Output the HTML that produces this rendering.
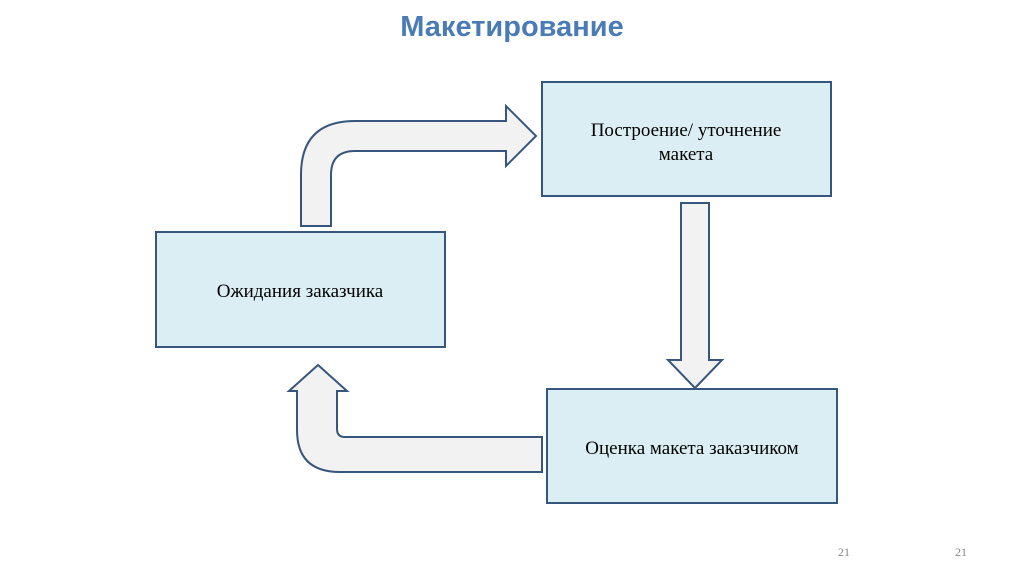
<!DOCTYPE html><html><head><style>body{margin:0;width:1024px;height:574px;background:#fff;overflow:hidden}</style></head><body>
<svg width="1024" height="574" xmlns="http://www.w3.org/2000/svg">
<text x="512" y="36" text-anchor="middle" font-family="Liberation Sans, sans-serif" font-weight="bold" font-size="29" fill="#4a7bb7">Макетирование</text>
<g fill="#dbeef4" stroke="#36567e" stroke-width="2">
<rect x="542" y="82" width="289" height="114"/>
<rect x="156" y="232" width="289" height="115"/>
<rect x="547" y="389" width="290" height="114"/>
</g>
<g fill="#f2f2f2" stroke="#36567e" stroke-width="2" stroke-linejoin="miter">
<path d="M301 226 L301 175 Q301 121 355 121 L506 121 L506 106 L536 136 L506 166 L506 151 L355 151 Q331 151 331 175 L331 226 Z"/>
<path d="M681 203 L709 203 L709 360 L722 360 L695 388 L668 360 L681 360 Z"/>
<path d="M542 437 L345 437 Q337 437 337 429 L337 391 L347 391 L318 365 L289 391 L297 391 L297 430 Q297 472 340 472 L542 472 Z"/>
</g>
<g font-family="Liberation Serif, serif" font-size="19" fill="#000" text-anchor="middle">
<text x="686" y="136">Построение/ уточнение</text>
<text x="686" y="160">макета</text>
<text x="300" y="297">Ожидания заказчика</text>
<text x="692" y="454">Оценка макета заказчиком</text>
</g>
<g font-family="Liberation Serif, serif" font-size="12" fill="#888">
<text x="838" y="556">21</text><text x="955" y="556">21</text>
</g>
</svg></body></html>
